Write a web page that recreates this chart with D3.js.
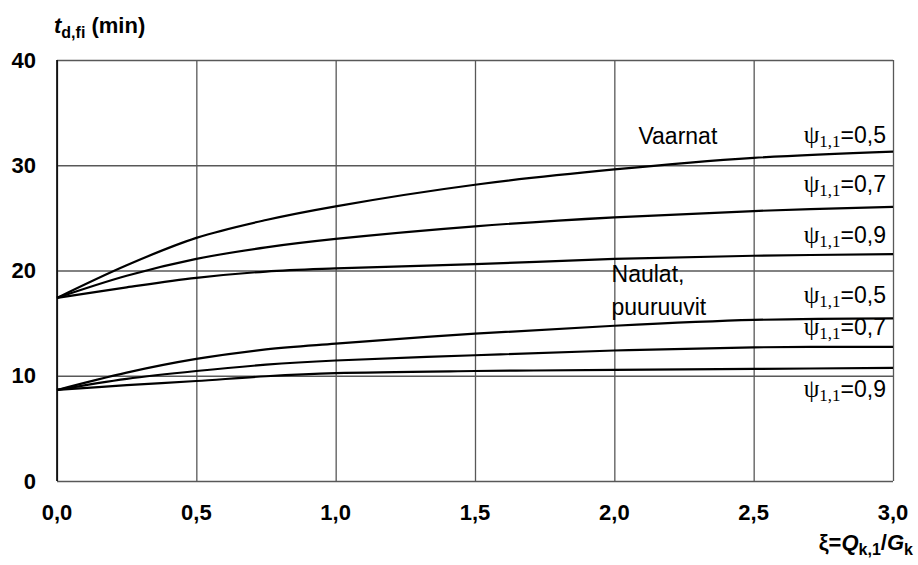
<!DOCTYPE html>
<html>
<head>
<meta charset="utf-8">
<script src="https://cdn.jsdelivr.net/npm/d3@7"></script>
<style>
  body { margin: 0; background: #fff; }
  text { font-family: "Liberation Sans", Arial, sans-serif; }
</style>
</head>
<body>
<svg id="chart" width="918" height="565"></svg>
<script>
// x = Qk,1/Gk, y = t_d,fi (min)
const xValues = [0, 0.25, 0.5, 0.75, 1.0, 1.5, 2.0, 2.5, 3.0];
const vaarnat05 = [17.4, 20.5, 23.1, 24.8, 26.1, 28.15, 29.6, 30.7, 31.3];
const vaarnat07 = [17.4, 19.5, 21.1, 22.2, 23.0, 24.2, 25.05, 25.65, 26.05];
const vaarnat09 = [17.4, 18.4, 19.3, 19.9, 20.2, 20.6, 21.1, 21.4, 21.55];
const naulat05 = [8.65, 10.3, 11.6, 12.5, 13.05, 14.0, 14.75, 15.3, 15.45];
const naulat07 = [8.65, 9.7, 10.45, 11.05, 11.45, 11.95, 12.4, 12.7, 12.75];
const naulat09 = [8.65, 9.1, 9.5, 9.95, 10.25, 10.45, 10.55, 10.65, 10.75];

const psiLabels = ["0,5", "0,7", "0,9", "0,5", "0,7", "0,9"];
const psiLabelAt = [32.1, 27.5, 22.6, 16.9, 13.9, 8.0];
const xTicks = [0, 0.5, 1.0, 1.5, 2.0, 2.5, 3.0];
const yTicks = [0, 10, 20, 30, 40];

const series = [vaarnat05, vaarnat07, vaarnat09, naulat05, naulat07, naulat09];

const svg = d3.select("#chart");
const margin = { top: 60, right: 25, bottom: 84, left: 57 };
const width = 918 - margin.left - margin.right;
const height = 565 - margin.top - margin.bottom;

const x = d3.scaleLinear().domain([0, 3]).range([0, width]);
const y = d3.scaleLinear().domain([0, 40]).range([height, 0]);
const fmt = d => d3.format(".1f")(d).replace(".", ",");

const g = svg.append("g")
    .attr("transform", `translate(${margin.left},${margin.top})`);

// grid
g.append("g")
    .call(d3.axisBottom(x).tickValues(xTicks).tickSize(height).tickFormat(""))
    .call(a => a.select(".domain").remove())
    .selectAll("line")
    .attr("stroke", "#585858")
    .attr("stroke-width", 1.3);

g.append("g")
    .call(d3.axisLeft(y).tickValues(yTicks).tickSize(-width).tickFormat(""))
    .call(a => a.select(".domain").remove())
    .selectAll("line")
    .attr("stroke", "#585858")
    .attr("stroke-width", 1.3);

// left axis line
g.append("line")
    .attr("x1", 0).attr("x2", 0)
    .attr("y1", 0).attr("y2", height)
    .attr("stroke", "#000")
    .attr("stroke-width", 1.6);

// tick labels
g.selectAll(".xlab")
    .data(xTicks)
    .join("text")
    .attr("x", d => x(d))
    .attr("y", height + 39)
    .attr("text-anchor", "middle")
    .style("font-size", "22px")
    .style("font-weight", "bold")
    .text(fmt);

g.selectAll(".ylab")
    .data(yTicks)
    .join("text")
    .attr("x", -21)
    .attr("y", d => y(d))
    .attr("dy", "0.35em")
    .attr("text-anchor", "end")
    .style("font-size", "22px")
    .style("font-weight", "bold")
    .text(d => d);

// curves
const line = d3.line()
    .x((d, i) => x(xValues[i]))
    .y(d => y(d))
    .curve(d3.curveCatmullRom.alpha(0.5));

g.selectAll(".curve")
    .data(series)
    .join("path")
    .attr("d", line)
    .attr("fill", "none")
    .attr("stroke", "#000")
    .attr("stroke-width", 2.2);

// psi labels
const psi = g.selectAll(".psi")
    .data(psiLabels)
    .join("text")
    .attr("x", width - 7)
    .attr("y", (d, i) => y(psiLabelAt[i]))
    .attr("text-anchor", "end")
    .style("font-size", "23px");
psi.append("tspan")
    .style("font-family", "'Liberation Serif', serif")
    .style("font-size", "25px")
    .text("ψ");
psi.append("tspan")
    .style("font-family", "'Liberation Serif', serif")
    .style("font-size", "17px")
    .attr("dy", 4)
    .text("1,1");
psi.append("tspan")
    .attr("dy", -4)
    .text(d => "=" + d);

// group labels
g.append("text")
    .attr("x", x(2.228))
    .attr("y", y(32))
    .attr("text-anchor", "middle")
    .style("font-size", "23px")
    .text("Vaarnat");

const naulat = g.append("text")
    .attr("x", x(1.99))
    .attr("y", y(18.95))
    .style("font-size", "23px");
naulat.append("tspan").text("Naulat,");
naulat.append("tspan")
    .attr("x", x(1.99))
    .attr("dy", 33)
    .text("puuruuvit");

// y axis title
const yTitle = svg.append("text")
    .attr("x", 54)
    .attr("y", 33)
    .style("font-size", "22px")
    .style("font-weight", "bold");
yTitle.append("tspan").style("font-style", "italic").text("t");
yTitle.append("tspan").attr("dy", 5).style("font-size", "16px").text("d,fi");
yTitle.append("tspan").attr("dy", -5).text(" (min)");

// x axis title
const xTitle = svg.append("text")
    .attr("x", 913)
    .attr("y", 550)
    .attr("text-anchor", "end")
    .style("font-size", "22px")
    .style("font-weight", "bold");
xTitle.append("tspan").text("ξ=");
xTitle.append("tspan").style("font-style", "italic").text("Q");
xTitle.append("tspan").attr("dy", 5).style("font-size", "16px").text("k,1");
xTitle.append("tspan").attr("dy", -5).text("/");
xTitle.append("tspan").style("font-style", "italic").text("G");
xTitle.append("tspan").attr("dy", 5).style("font-size", "16px").text("k");
</script>
</body>
</html>
